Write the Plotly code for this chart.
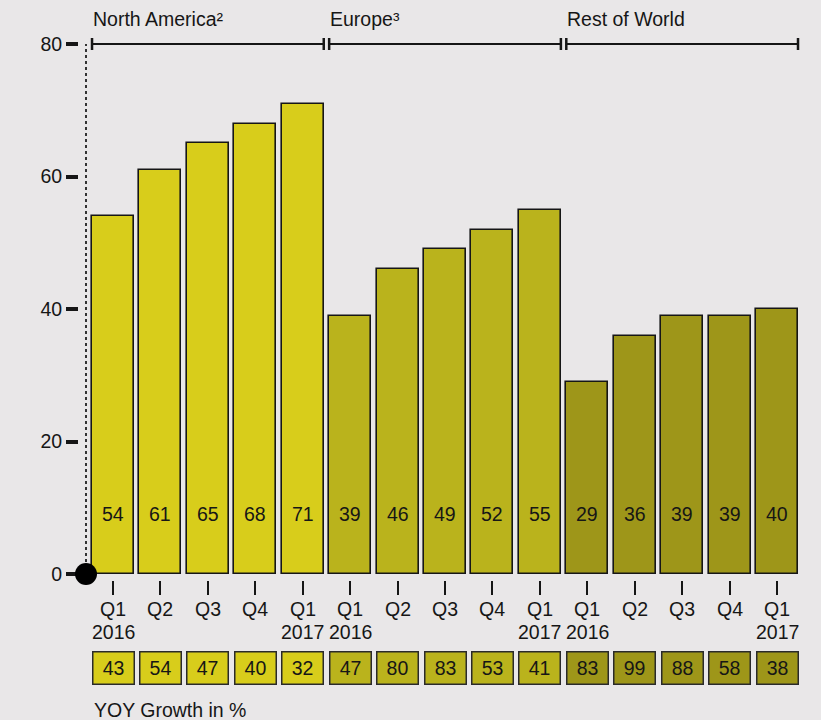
import plotly.graph_objects as go

# Share of revenue by region and quarter (%), plus year-over-year growth (%)
regions = ["North America²", "Europe³", "Rest of World"]
quarters = ["Q1", "Q2", "Q3", "Q4", "Q1"]
years = ["2016", "", "", "", "2017"]
na_share = [54, 61, 65, 68, 71]
eu_share = [39, 46, 49, 52, 55]
row_share = [29, 36, 39, 39, 40]
na_growth = [43, 54, 47, 40, 32]
eu_growth = [47, 80, 83, 53, 41]
row_growth = [83, 99, 88, 58, 38]
region_colors = ["#d8cd1b", "#bab31c", "#9e9619"]
y_ticks = [0, 20, 40, 60, 80]

W, H = 821, 720
BG = "#e9e7e8"
INK = "#161616"
FONT = "Liberation Sans, Arial, sans-serif"
FS = 19.5
BAR_W = 0.886


def px(x):
    return x / W


def py(y):
    return 1 - y / H


def label(x, y, text, xref="x", xanchor="center", size=FS, **kw):
    return dict(x=x, xref=xref, xanchor=xanchor, y=y, yref="paper",
                yanchor="middle", text=text, showarrow=False,
                font=dict(size=size, color=INK, family=FONT), **kw)


shares = [na_share, eu_share, row_share]
growths = [na_growth, eu_growth, row_growth]
n_q = len(quarters)

fig = go.Figure()
annotations = []
shapes = []

for g, (name, share, growth, color) in enumerate(zip(regions, shares, growths, region_colors)):
    xs = [g * n_q + i for i in range(n_q)]
    fig.add_trace(go.Bar(
        x=xs, y=share, name=name, width=BAR_W,
        marker=dict(color=color, line=dict(color=INK, width=1.6)),
        hoverinfo="skip", showlegend=False,
    ))
    for x, v, gv, q, yr in zip(xs, share, growth, quarters, years):
        # value printed near the base of each bar
        annotations.append(label(x, py(514), str(v)))
        # quarter / year under the tick
        annotations.append(label(x, py(608.5), q))
        if yr:
            annotations.append(label(x, py(632), yr))
        # growth box
        annotations.append(label(
            x, py(667.5), str(gv),
            bgcolor=color, bordercolor="#2a2a2a", borderwidth=1.5,
            width=38, height=29, borderpad=1,
        ))
    # region heading and bracket
    x_start = xs[0] - BAR_W / 2
    x_end = xs[-1] + BAR_W / 2
    annotations.append(label(x_start - 0.02, py(19), name, xanchor="left"))
    shapes.append(dict(type="line", xref="x", yref="paper",
                       x0=x_start, x1=x_end, y0=py(44), y1=py(44),
                       line=dict(color=INK, width=2)))
    for xe in (x_start, x_end):
        shapes.append(dict(type="line", xref="x", yref="paper",
                           x0=xe, x1=xe, y0=py(50), y1=py(38),
                           line=dict(color=INK, width=2.5)))

# dotted vertical axis and origin dot
shapes.append(dict(type="line", xref="paper", yref="paper",
                   x0=px(86), x1=px(86), y0=py(574), y1=py(44),
                   line=dict(color="#333", width=2, dash="dot")))
shapes.append(dict(type="circle", xref="paper", yref="paper",
                   xsizemode="pixel", ysizemode="pixel",
                   xanchor=px(86), yanchor=py(574),
                   x0=-11, x1=11, y0=-11, y1=11,
                   fillcolor="black", line=dict(color="black", width=0)))

annotations.append(label(px(92), py(710), "YOY Growth in %", xref="paper", xanchor="left"))

all_x = list(range(len(regions) * n_q))

fig.update_layout(
    width=W, height=H,
    margin=dict(l=0, r=0, t=0, b=0),
    paper_bgcolor=BG, plot_bgcolor=BG,
    font=dict(family=FONT, color=INK, size=FS),
    bargap=0,
    xaxis=dict(
        domain=[px(86), px(800)], anchor="free", position=py(580),
        range=[-0.57, all_x[-1] + 0.485],
        tickvals=all_x, showticklabels=False,
        ticks="outside", ticklen=14, tickwidth=2, tickcolor=INK,
        showline=False, showgrid=False, zeroline=False,
        automargin=False,
    ),
    yaxis=dict(
        domain=[py(574), py(44)], anchor="free", position=px(78),
        range=[0, 80], tickvals=y_ticks,
        ticks="outside", ticklen=12, tickwidth=3.5, tickcolor=INK,
        showline=False, showgrid=False, zeroline=False,
        tickfont=dict(size=FS, color=INK, family=FONT),
        automargin=False,
    ),
    annotations=annotations,
    shapes=shapes,
)

fig.write_html("out.html")
